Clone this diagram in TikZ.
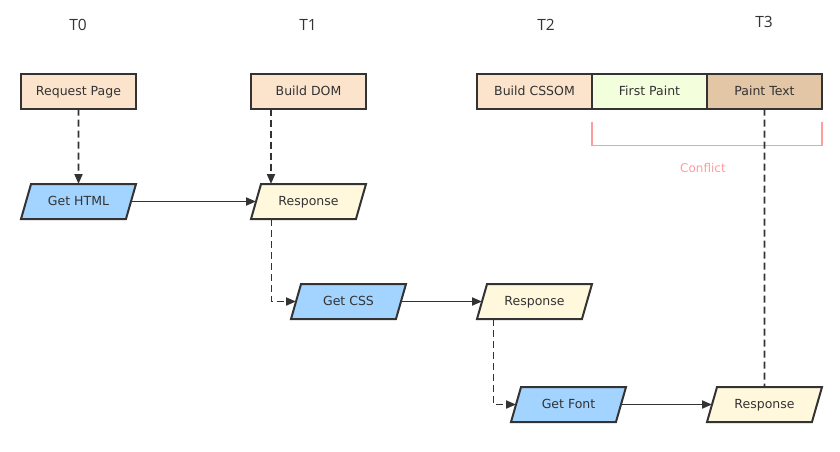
\documentclass[tikz,border=0pt]{standalone}
\usepackage{fontspec}
\setmainfont{DejaVu Sans}
\newfontfamily\tickfont{Open Sans}
\usepackage{tikz}
\usetikzlibrary{positioning,arrows.meta,calc,shapes.geometric}
\definecolor{ink}{HTML}{333333}
\definecolor{peach}{HTML}{FCE4CC}
\definecolor{lime}{HTML}{F3FEDC}
\definecolor{tan}{HTML}{E2C6A6}
\definecolor{sky}{HTML}{A3D3FF}
\definecolor{cream}{HTML}{FFF8DC}
\definecolor{salmon}{HTML}{FF9C9C}

\begin{document}
\begin{tikzpicture}[
  x=1pt, y=-1pt,
  node distance=0pt,
  box/.style={draw=ink, line width=2pt, minimum width=115pt, minimum height=35pt,
              outer sep=0pt, font=\fontsize{12.5}{14}\selectfont, text=ink,
              text height=9pt, text depth=0.5pt},
  stage/.style={box, rectangle, inner sep=0pt},
  io/.style={box, trapezium, trapezium left angle=74, trapezium right angle=106,
             trapezium stretches body, inner xsep=0pt, inner ysep=12.75pt},
  get/.style={io, fill=sky},
  resp/.style={io, fill=cream},
  tick/.style={font=\tickfont\fontsize{15.5}{17}\selectfont, text=ink},
  arr/.style={-{Triangle[length=10pt,width=8pt]}, ink, line width=1.9pt},
  dsh/.style={arr, dash pattern=on 7pt off 4pt},
  brk/.style={salmon, line width=1.8pt}
]
\useasboundingbox (0,0) rectangle (840,451);
% time axis
\node[tick] (t0) at (78,25) {T0};
\node[tick] (t1) at (308,25) {T1};
\node[tick] (t2) at (546,25) {T2};
\node[tick] (t3) at (764,22) {T3};
% main thread stages
\node[stage, fill=peach] (req) at (78.5,91) {Request Page};
\node[stage, fill=peach] (dom) at (308.5,91) {Build DOM};
\node[stage, fill=peach] (cssom) at (534.5,91) {Build CSSOM};
\node[stage, fill=lime, right=of cssom] (fp) {First Paint};
\node[stage, fill=tan, right=of fp] (pt) {Paint Text};
% network requests
\node[get] (html) at (78.5,201.5) {Get HTML};
\node[resp] (resp1) at (308.5,201.5) {Response};
\node[get] (css) at (348.5,301.5) {Get CSS};
\node[resp] (resp2) at (534.5,301.5) {Response};
\node[get] (font) at (568.5,404.5) {Get Font};
\node[resp] (resp3) at (764.5,404.5) {Response};
% conflict bracket
\draw[brk] ([yshift=-13pt]fp.south west) -- ([yshift=-37pt]fp.south west)
  -| ([yshift=-13pt]pt.south east);
\node[font=\fontsize{12}{14}\selectfont, text=salmon] (conflict) at (703,168) {Conflict};
% flow
\draw[dsh] (req.south) -- (html.north);
\draw[dsh] ([xshift=20pt]dom.south west) -- ([xshift=20pt]dom.south west |- resp1.north);
\draw[arr] (html.east) -- (resp1.west);
\draw[dsh] ([xshift=-37pt]resp1.south) |- (css.west);
\draw[arr] (css.east) -- (resp2.west);
\draw[dsh] ([xshift=-41pt]resp2.south) |- (font.west);
\draw[arr] (font.east) -- (resp3.west);
\draw[ink, line width=1.9pt, dash pattern=on 7pt off 4pt] (pt.south) -- (resp3.north);
\end{tikzpicture}
\end{document}
